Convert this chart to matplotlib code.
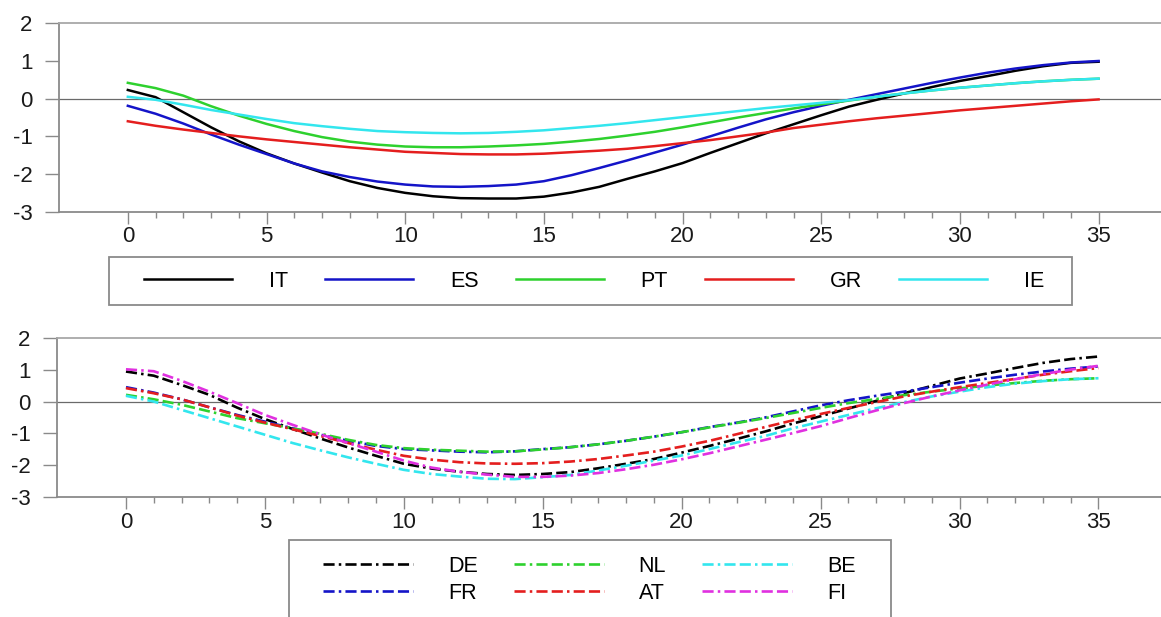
import numpy as np
import matplotlib
matplotlib.use("Agg")
import matplotlib.pyplot as plt
from matplotlib.patches import Rectangle

# ---------------- data ----------------
periods = list(range(36))

top_names = ["IT", "ES", "PT", "GR", "IE"]
IT = [0.23, 0.04, -0.36, -0.76, -1.13, -1.45, -1.72, -1.96, -2.19, -2.37, -2.5, -2.59, -2.64, -2.65,
      -2.65, -2.6, -2.49, -2.34, -2.13, -1.93, -1.71, -1.44, -1.18, -0.92, -0.68, -0.44, -0.21, -0.03,
      0.14, 0.31, 0.47, 0.6, 0.74, 0.86, 0.95, 0.98]
ES = [-0.19, -0.4, -0.66, -0.95, -1.22, -1.47, -1.72, -1.93, -2.08, -2.2, -2.28, -2.33, -2.34, -2.32,
      -2.28, -2.19, -2.03, -1.84, -1.64, -1.43, -1.22, -1.0, -0.77, -0.55, -0.36, -0.19, -0.03, 0.12,
      0.27, 0.42, 0.56, 0.69, 0.8, 0.89, 0.96, 1.0]
PT = [0.42, 0.28, 0.08, -0.2, -0.45, -0.67, -0.86, -1.02, -1.14, -1.22, -1.27, -1.29, -1.29, -1.27,
      -1.24, -1.2, -1.14, -1.07, -0.98, -0.88, -0.76, -0.63, -0.5, -0.38, -0.26, -0.15, -0.05, 0.05,
      0.14, 0.22, 0.29, 0.35, 0.41, 0.46, 0.5, 0.53]
GR = [-0.6, -0.72, -0.82, -0.91, -1.0, -1.08, -1.15, -1.22, -1.29, -1.35, -1.41, -1.44, -1.47, -1.48,
      -1.48, -1.46, -1.42, -1.38, -1.33, -1.26, -1.18, -1.1, -1.0, -0.9, -0.78, -0.69, -0.6, -0.52,
      -0.45, -0.38, -0.31, -0.25, -0.19, -0.13, -0.07, -0.02]
IE = [0.05, -0.03, -0.16, -0.3, -0.42, -0.54, -0.65, -0.73, -0.8, -0.86, -0.89, -0.91, -0.92, -0.91,
      -0.88, -0.84, -0.78, -0.72, -0.65, -0.57, -0.49, -0.41, -0.33, -0.25, -0.18, -0.11, -0.04, 0.05,
      0.14, 0.22, 0.29, 0.35, 0.41, 0.46, 0.5, 0.53]

bottom_names = ["DE", "FR", "NL", "AT", "BE", "FI"]
DE = [0.94, 0.81, 0.52, 0.21, -0.19, -0.55, -0.86, -1.16, -1.44, -1.7, -1.95, -2.1, -2.2, -2.27,
      -2.3, -2.27, -2.21, -2.09, -1.95, -1.8, -1.6, -1.39, -1.17, -0.94, -0.69, -0.46, -0.22, 0.02,
      0.26, 0.49, 0.72, 0.88, 1.05, 1.21, 1.33, 1.41]
FR = [0.45, 0.28, 0.07, -0.18, -0.42, -0.63, -0.84, -1.04, -1.23, -1.39, -1.49, -1.53, -1.57, -1.59,
      -1.56, -1.49, -1.43, -1.34, -1.23, -1.1, -0.96, -0.8, -0.66, -0.5, -0.31, -0.12, 0.04, 0.18,
      0.31, 0.45, 0.59, 0.72, 0.84, 0.94, 1.03, 1.1]
NL = [0.21, 0.07, -0.1, -0.31, -0.52, -0.68, -0.84, -1.01, -1.2, -1.36, -1.46, -1.51, -1.54, -1.57,
      -1.56, -1.5, -1.43, -1.34, -1.23, -1.1, -0.96, -0.81, -0.67, -0.52, -0.36, -0.2, -0.05, 0.08,
      0.2, 0.31, 0.41, 0.5, 0.58, 0.65, 0.7, 0.73]
AT = [0.42, 0.26, 0.07, -0.18, -0.44, -0.66, -0.87, -1.08, -1.3, -1.51, -1.7, -1.82, -1.9, -1.94,
      -1.95, -1.93, -1.88, -1.8, -1.69, -1.57, -1.41, -1.23, -1.02, -0.8, -0.59, -0.39, -0.2, -0.02,
      0.16, 0.31, 0.45, 0.58, 0.71, 0.84, 0.95, 1.05]
BE = [0.18, 0.0, -0.26, -0.52, -0.78, -1.04, -1.3, -1.53, -1.75, -1.95, -2.14, -2.27, -2.35, -2.42,
      -2.43, -2.37, -2.3, -2.16, -2.01, -1.85, -1.69, -1.49, -1.28, -1.08, -0.84, -0.63, -0.42, -0.21,
      -0.02, 0.16, 0.31, 0.45, 0.56, 0.64, 0.7, 0.73]
FI = [1.01, 0.95, 0.65, 0.31, -0.05, -0.42, -0.73, -1.03, -1.3, -1.57, -1.85, -2.07, -2.2, -2.29,
      -2.36, -2.36, -2.32, -2.24, -2.12, -1.98, -1.81, -1.62, -1.41, -1.2, -0.99, -0.77, -0.52, -0.28,
      -0.05, 0.16, 0.35, 0.53, 0.7, 0.86, 1.0, 1.12]

x_major = list(range(0, 36, 5))
x_minor = list(range(0, 36))
y_ticks = [-3, -2, -1, 0, 1, 2]

# ---------------- styling ----------------
plt.rcParams['font.family'] = ['Liberation Sans', 'DejaVu Sans']
plt.rcParams['lines.scale_dashes'] = False
plt.rcParams['axes.unicode_minus'] = False

W, H = 1161, 617
fig = plt.figure(figsize=(W / 100, H / 100), dpi=100)


def fx(px):
    return px / W


def fy(py):
    return 1 - py / H


GRAY = '#8a8a8a'
FS = 16
LFS = 15.5


def style(ax):
    ax.set_xlim(-2.5, 37.25)
    ax.set_ylim(-3, 2)
    ax.set_yticks(y_ticks)
    ax.set_xticks(x_major)
    ax.set_xticks(x_minor, minor=True)
    ax.axhline(0, color='#6a6a6a', lw=0.9, zorder=1)
    ax.spines['right'].set_visible(False)
    ax.spines['top'].set_color('#a8a8a8')
    ax.spines['bottom'].set_color(GRAY)
    ax.spines['left'].set_color(GRAY)
    for s in ('top', 'bottom', 'left'):
        ax.spines[s].set_linewidth(1.3)
    ax.tick_params(axis='y', length=9.8, width=1.0, color=GRAY, pad=9,
                   labelsize=FS, labelcolor='#1a1a1a')
    ax.tick_params(axis='x', which='major', length=8.6, width=1.0, color=GRAY,
                   pad=2, labelsize=FS, labelcolor='#1a1a1a')
    ax.tick_params(axis='x', which='minor', length=4.3, width=1.0, color=GRAY)


ax1 = fig.add_axes([fx(58.5), fy(211.7), (W - 58.5) / W, (211.7 - 23.3) / H])
ax2 = fig.add_axes([fx(56.5), fy(497.3), (W - 56.5) / W, (497.3 - 337.7) / H])
style(ax1)
style(ax2)

top_colors = ['#000000', '#1414c8', '#2ed12e', '#e41e1e', '#33e6ee']
top_data = [IT, ES, PT, GR, IE]
h1 = []
for name, vals, c in zip(top_names, top_data, top_colors):
    ln, = ax1.plot(periods, vals, color=c, lw=1.8, label=name, zorder=3)
    h1.append(ln)

dash = (0, (8, 3, 1.8, 3, 8, 3))
bottom_colors = ['#000000', '#1414c8', '#2ed12e', '#e41e1e', '#33e6ee', '#e030e0']
bottom_data = [DE, FR, NL, AT, BE, FI]
h2 = []
for name, vals, c in zip(bottom_names, bottom_data, bottom_colors):
    ln, = ax2.plot(periods, vals, color=c, lw=1.9, ls=dash, label=name, zorder=3)
    h2.append(ln)

em = LFS * 100 / 72.0

leg1 = fig.legend(handles=h1, labels=top_names, loc='center left',
                  bbox_to_anchor=(fx(144), fy(281)), bbox_transform=fig.transFigure,
                  ncol=5, frameon=False, fontsize=LFS, borderpad=0, borderaxespad=0,
                  handlelength=88 / em, handletextpad=37 / em, columnspacing=37 / em)
fig.add_artist(Rectangle((fx(109), fy(305)), (1072 - 109) / W, 48 / H,
                         transform=fig.transFigure, fill=False, ec=GRAY, lw=1.3))

leg2 = fig.legend(handles=h2, labels=bottom_names, loc='center left',
                  bbox_to_anchor=(fx(323), fy(580)), bbox_transform=fig.transFigure,
                  ncol=3, frameon=False, fontsize=LFS, borderpad=0, borderaxespad=0,
                  labelspacing=0.28,
                  handlelength=90 / em, handletextpad=35 / em, columnspacing=36 / em)
fig.add_artist(Rectangle((fx(288.7), fy(680)), (891 - 288.7) / W, (680 - 540) / H,
                         transform=fig.transFigure, fill=False, ec=GRAY, lw=1.3))

fig.savefig('out.png', dpi=100)
